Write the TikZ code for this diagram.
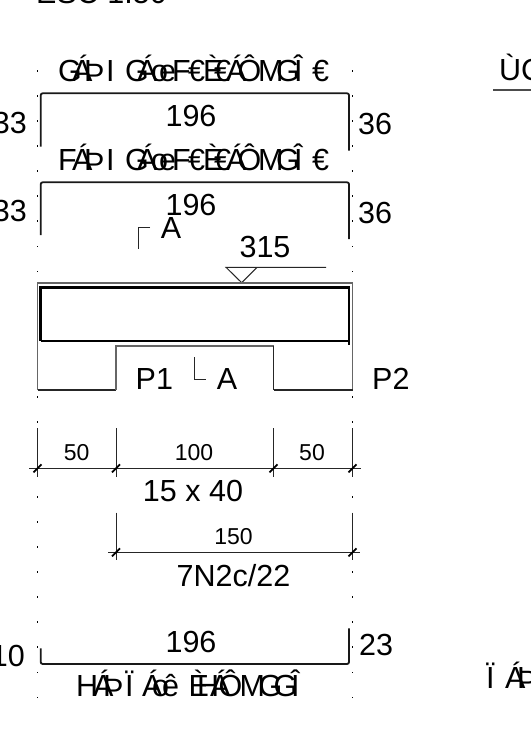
\documentclass[tikz,border=0pt]{standalone}
\usepackage{fontspec}
\setmainfont{Liberation Sans}
\newcommand\glyphat[2]{\rlap{\kern#1bp #2}}
\newcommand\rowone{\glyphat{14}{Á}\glyphat{26}{Þ}\glyphat{48}{I}\glyphat{67}{G}\glyphat{79}{Á}\glyphat{93}{o}\glyphat{101}{e}\glyphat{114}{F}\glyphat{130}{€}\glyphat{145}{È}\glyphat{156}{€}\glyphat{168}{Á}\glyphat{179.5}{Ô}\glyphat{200}{M}\glyphat{218}{G}\glyphat{236}{Î}\glyphat{254}{€}\kern272bp}
\tikzset{
  big/.style={inner sep=0pt,anchor=base,font=\fontsize{30.5bp}{30.5bp}\selectfont},
  small/.style={inner sep=0pt,anchor=base,font=\fontsize{23bp}{23bp}\selectfont},
  stirrup/.style={line width=1.8bp,rounded corners=2bp,black!90},
  thin/.style={line width=1bp,black!85},
  dimline/.style={line width=1bp,black!85},
  tick/.style={line width=1.8bp,black}
}
\begin{document}
\begin{tikzpicture}[x=1bp,y=-1bp]
\useasboundingbox (0,0) rectangle (531,749);
\clip (0,0) rectangle (531,749);
\fill[white] (0,0) rectangle (531,749);
% grid dots
\foreach \i in {0,...,25}{
  \fill[black] ({37.5-0.9},{71+25.06*\i-0.9}) rectangle ++(1.8,1.8);
  \fill[black] ({352.5-0.9},{71+25.06*\i-0.9}) rectangle ++(1.8,1.8);
}
% top text
\node[big,anchor=base west] (title) at (36,4) {ESC 1:50};
\node[big,anchor=base west] (rtitle) at (499,80) {ÙC};
\draw[line width=1.2bp,black!70] (493,90) -- (531,90);
\node[big,anchor=base west] (rbot) at (486,688) {\glyphat{0}{Ï}\glyphat{19}{Á}\glyphat{31}{Þ}\kern50bp};
% top rows
\node[big,anchor=base west] (rowa) at (58,81) {\glyphat{0}{G}\rowone};
\draw[stirrup] (40.7,146.7) -- (40.7,93.3) -- (349,93.3) -- (349,150.7);
\node[big] (w1) at (191,126) {196};
\node[big,anchor=base east] (l1) at (27,133) {33};
\node[big,anchor=base west] (r1) at (358,134) {36};
\node[big,anchor=base west] (rowb) at (58,170) {\glyphat{0}{F}\rowone};
\draw[stirrup] (40.7,235) -- (40.7,182.3) -- (349,182.3) -- (349,239);
\node[big] (w2) at (191,215) {196};
\node[big,anchor=base east] (l2) at (27,221) {33};
\node[big,anchor=base west] (r2) at (358,223) {36};
% section mark top
\draw[thin] (150,227.3) -- (138.3,227.3) -- (138.3,249.3);
\node[big] (a1) at (171,238) {A};
% level
\node[big] (lev) at (265,257) {315};
\draw[thin] (326,267.3) -- (226,267.3) -- (241.7,282.7) -- (257,267.3);
% beam
\draw[line width=1.1bp,black!60] (37.5,390) -- (37.5,283) -- (352.5,283) -- (352.5,390);
\draw[line width=1.1bp,black!85] (37.5,390) -- (116,390);
\draw[line width=1.1bp,black!85] (352.5,390) -- (273.5,390);
\draw[line width=1.1bp,black!60] (116,390) -- (116,346) -- (273.5,346);
\draw[line width=1.1bp,black!85] (273.5,346) -- (273.5,390);
\draw[line width=2.6bp,black] (40.5,341) -- (40.5,287.7) -- (349,287.7) -- (349,345);
\draw[line width=2.6bp,black] (40.5,341) -- (349,341);
\node[big,anchor=base west] (p1) at (135.5,389) {P1};
\node[big,anchor=base west] (p2) at (372,389) {P2};
\node[big] (a2) at (227,389) {A};
\draw[thin] (194.7,357.3) -- (194.7,379) -- (206,379);
% first dimension
\draw[dimline] (29,468.3) -- (360.7,468.3);
\foreach \x in {37.5,116,273.5,352.5}{
  \draw[dimline] (\x,428) -- (\x,476.7);
  \draw[tick] (\x-4,472.3) -- (\x+4,464.3);
}
\node[small] (d1) at (76.6,460) {50};
\node[small] (d2) at (194,460) {100};
\node[small] (d3) at (312,460) {50};
\node[big] (sec) at (193,501.7) {15 x 40};
% second dimension
\draw[dimline] (108,552.3) -- (360,552.3);
\foreach \x in {116,352.5}{
  \draw[dimline] (\x,512.7) -- (\x,560);
  \draw[tick] (\x-4,556.3) -- (\x+4,548.3);
}
\node[small] (d4) at (233.5,544) {150};
\node[big] (reb) at (233.5,586) {7N2c/22};
% bottom
\draw[stirrup] (40.7,648.3) -- (40.7,664) -- (349,664) -- (349,628.3);
\node[big] (w3) at (191,652.7) {196};
\node[big,anchor=base east] (l3) at (25,666.7) {10};
\node[big,anchor=base west] (r3) at (359,655.7) {23};
\node[big,anchor=base west] (rowc) at (76,696) {\glyphat{0}{H}\glyphat{17}{Á}\glyphat{27}{Þ}\glyphat{49}{Ï}\glyphat{66}{Á}\glyphat{76}{o}\glyphat{86}{ê}\glyphat{112.5}{È}\glyphat{121}{H}\glyphat{134}{Á}\glyphat{142.5}{Ô}\glyphat{163.5}{M}\glyphat{182.5}{G}\glyphat{197.5}{G}\glyphat{215}{Î}\kern224bp};
\end{tikzpicture}
\end{document}
